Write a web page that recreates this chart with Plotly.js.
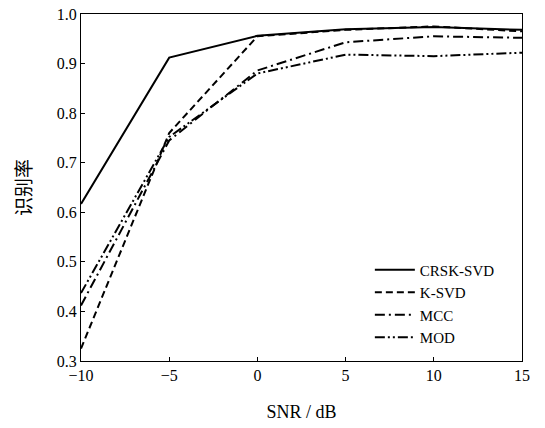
<!DOCTYPE html>
<html>
<head>
<meta charset="utf-8">
<script src="https://cdn.plot.ly/plotly-3.0.1.min.js"></script>
<style>html,body{margin:0;padding:0;background:#fff;}#chart{width:545px;height:428px;}</style>
</head>
<body>
<div id="chart"></div>
<script>
var snr = [-10, -5, 0, 5, 10, 15];
var crsk = [0.617, 0.912, 0.956, 0.969, 0.974, 0.968];
var ksvd = [0.325, 0.760, 0.955, 0.968, 0.975, 0.965];
var mcc = [0.412, 0.745, 0.886, 0.943, 0.955, 0.952];
var mod = [0.437, 0.752, 0.880, 0.918, 0.915, 0.922];
var names = ['CRSK-SVD', 'K-SVD', 'MCC', 'MOD'];
var xTicks = [-10, -5, 0, 5, 10, 15];
var xTickText = ['\u221210', '\u22125', '0', '5', '10', '15'];
var yTicks = [0.3, 0.4, 0.5, 0.6, 0.7, 0.8, 0.9, 1.0];
var yTickText = ['0.3', '0.4', '0.5', '0.6', '0.7', '0.8', '0.9', '1.0'];

var series = [crsk, ksvd, mcc, mod];
var dashes = ['solid', '7px,4px', '10px,4px,2px,4px', '10px,3px,2px,3px,2px,3px'];
var traces = series.map(function (s, i) {
  return {
    x: snr, y: s, name: names[i], mode: 'lines', type: 'scatter',
    line: {color: '#000', width: 2, dash: dashes[i]}
  };
});

var serif = '"Times New Roman", "Liberation Serif", serif';
var layout = {
  width: 545, height: 428,
  margin: {l: 81, r: 23, t: 14, b: 67},
  paper_bgcolor: '#fff', plot_bgcolor: '#fff',
  showlegend: true,
  legend: {
    x: 0.655, y: 0.31, xanchor: 'left', yanchor: 'top',
    bgcolor: 'rgba(0,0,0,0)', font: {family: serif, size: 15, color: '#000'},
    tracegroupgap: 0, itemwidth: 40
  },
  xaxis: {
    range: [-10, 15], tickvals: xTicks, ticktext: xTickText,
    ticks: 'inside', ticklen: 4, tickcolor: '#000', tickwidth: 1,
    showline: true, linecolor: '#000', linewidth: 1, mirror: true,
    showgrid: false, zeroline: false,
    tickfont: {family: serif, size: 16, color: '#000'},
    title: {text: 'SNR / dB', font: {family: serif, size: 18, color: '#000'}, standoff: 22}
  },
  yaxis: {
    range: [0.3, 1.0], tickvals: yTicks, ticktext: yTickText,
    ticks: 'inside', ticklen: 4, tickcolor: '#000', tickwidth: 1,
    showline: true, linecolor: '#000', linewidth: 1, mirror: true,
    showgrid: false, zeroline: false,
    tickfont: {family: serif, size: 16, color: '#000'},
    title: {text: '识别率', font: {family: '"Noto Sans CJK SC", sans-serif', size: 19, color: '#000'}, standoff: 20}
  }
};
Plotly.newPlot('chart', traces, layout, {displayModeBar: false, staticPlot: true});
</script>
</body>
</html>
